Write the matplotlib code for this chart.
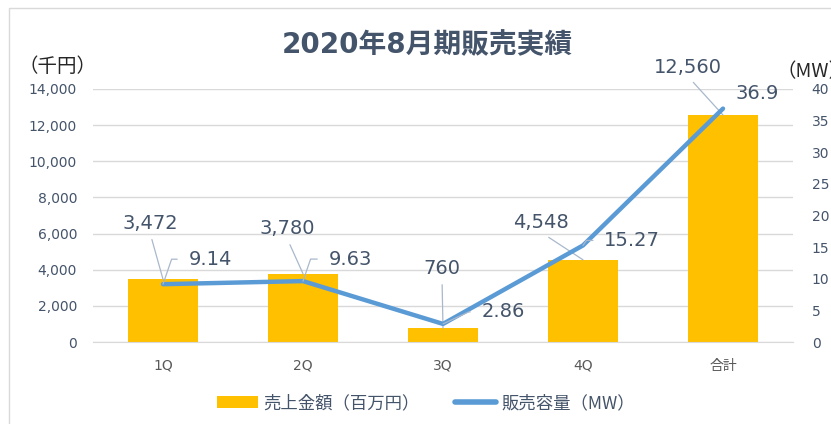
import matplotlib
matplotlib.use("Agg")
import matplotlib.pyplot as plt
from matplotlib.patches import Patch, Rectangle
from matplotlib.lines import Line2D
from matplotlib.ticker import FuncFormatter, MultipleLocator

plt.rcParams['font.family'] = ['DejaVu Sans', 'Noto Sans CJK JP']
JP = ['Noto Sans CJK JP', 'DejaVu Sans']

# data
categories = ['1Q', '2Q', '3Q', '4Q', '合計']
sales = [3472, 3780, 760, 4548, 12560]          # 売上金額 (千円)
capacity = [9.14, 9.63, 2.86, 15.27, 36.9]      # 販売容量 (MW)
sales_labels = ['3,472', '3,780', '760', '4,548', '12,560']
capacity_labels = ['9.14', '9.63', '2.86', '15.27', '36.9']

bar_color = '#FFC000'
line_color = '#5B9BD5'
text_color = '#44546A'
leader_color = '#A9B8CC'

fig = plt.figure(figsize=(8.31, 4.24), dpi=100)
ax = fig.add_axes([93 / 831, 82 / 424, 700 / 831, 253 / 424])
ax2 = ax.twinx()

x = range(len(categories))
ax.bar(x, sales, width=0.5, color=bar_color, zorder=2)
ax2.plot(x, capacity, color=line_color, lw=3.2, solid_capstyle='round', zorder=3)

# axes setup
ax.set_xlim(-0.5, 4.5)
ax.set_ylim(0, 14000)
ax2.set_ylim(0, 40)
ax.yaxis.set_major_locator(MultipleLocator(2000))
ax2.yaxis.set_major_locator(MultipleLocator(5))
ax.yaxis.set_major_formatter(FuncFormatter(lambda v, p: f'{int(v):,}'))
ax.grid(axis='y', color='#D9D9D9', lw=1, zorder=0)
ax.set_axisbelow(True)
for a in (ax, ax2):
    for s in a.spines.values():
        s.set_visible(False)
ax.spines['bottom'].set_visible(True)
ax.spines['bottom'].set_color('#D9D9D9')
ax.set_xticks(list(x))
ax.set_xticklabels(categories, fontsize=10, color='#595959')
for t in ax.get_xticklabels():
    t.set_family(JP if t.get_text() == '合計' else ['DejaVu Sans'])
ax.tick_params(axis='x', length=0, pad=12)
ax.tick_params(axis='y', length=0, pad=11.5, labelsize=10, labelcolor=text_color)
ax2.tick_params(axis='y', length=0, pad=13.5, labelsize=10, labelcolor=text_color)

# bar value labels with leader lines
bar_offsets = [(-13, 56), (-16, 45), (-1, 60), (-42, 37), (-35, 48)]
for i, (v, lab) in enumerate(zip(sales, sales_labels)):
    ax.annotate(lab, xy=(i, v), xytext=bar_offsets[i], textcoords='offset pixels',
                ha='center', va='center', fontsize=14, color=text_color,
                arrowprops=dict(arrowstyle='-', color=leader_color, lw=0.9,
                                relpos=(0.5, 0), shrinkA=3, shrinkB=0),
                zorder=5)

# line value labels
line_offsets = [(47, 25), (47, 22), (60, 12), (49, 5), (34, 15)]
line_angles = [71, 71, 25, 55, None]
for i, (v, lab) in enumerate(zip(capacity, capacity_labels)):
    props = None
    if line_angles[i] is not None:
        props = dict(arrowstyle='-', color=leader_color, lw=0.9, relpos=(0, 0.5),
                     shrinkA=6, shrinkB=0,
                     connectionstyle=f'angle,angleA=180,angleB={line_angles[i]},rad=0')
    ax2.annotate(lab, xy=(i, v), xytext=line_offsets[i], textcoords='offset pixels',
                 ha='center', va='center', fontsize=14, color=text_color,
                 arrowprops=props, zorder=6)

# title and unit labels
fig.text(427 / 831, 1 - 45 / 424, '2020年8月期販売実績', ha='center', va='center',
         fontsize=20, fontweight='bold', color=text_color)
fig.text(57 / 831, 1 - 66 / 424, '（千円）', ha='center', va='center',
         fontsize=14, color='#262626', family=JP)
fig.text(776 / 831, 1 - 72 / 424, '（MW）', ha='left', va='center',
         fontsize=14, color='#262626', family=JP)

# legend
handles = [Patch(facecolor=bar_color, edgecolor='none'),
           Line2D([0], [0], color=line_color, lw=4, solid_capstyle='round')]
fig.legend(handles, ['売上金額（百万円）', '販売容量（MW）'], loc='center',
           bbox_to_anchor=(426 / 831, 1 - 403 / 424), ncol=2, frameon=False,
           prop={'family': JP, 'size': 12.5}, handlelength=2.4, handletextpad=0.3,
           columnspacing=2.0, labelcolor=text_color)

# outer chart border
fig.patches.append(Rectangle((9 / 831, -0.05), 1.0, 1 - 8 / 424 + 0.05,
                             transform=fig.transFigure, fill=False,
                             edgecolor='#D9D9D9', lw=1))

fig.savefig('out.png', dpi=100)
